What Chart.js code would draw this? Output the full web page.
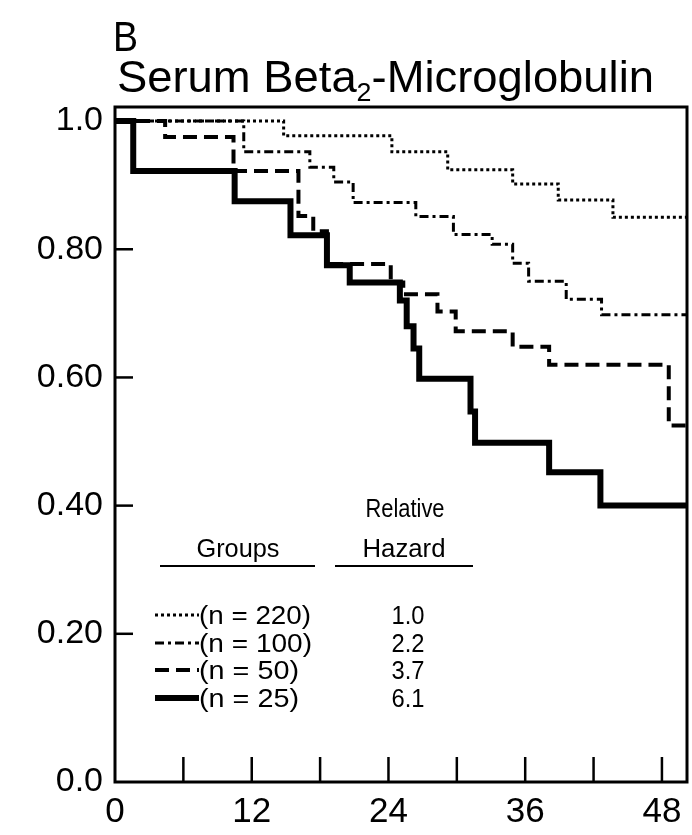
<!DOCTYPE html>
<html>
<head>
<meta charset="utf-8">
<title>Serum Beta2-Microglobulin</title>
<script src="https://cdn.jsdelivr.net/npm/chart.js@4/dist/chart.umd.min.js"></script>
<style>
    html, body { margin: 0; padding: 0; background: #fff; }
    #km { display: block; }
</style>
</head>
<body>
<canvas id="km" width="692" height="835"></canvas>
<script>
// Survival by serum beta2-microglobulin group (months, proportion surviving)
const months220 = [0, 14.8, 24.3, 29.2, 34.9, 38.9, 43.7, 50.2];
const surv220   = [1.0, 0.977, 0.952, 0.924, 0.902, 0.877, 0.850, 0.850];

const months100 = [0, 11.3, 17.1, 19.2, 20.9, 26.4, 29.7, 33.1, 34.9, 36.3, 39.6, 42.7, 50.2];
const surv100   = [1.0, 0.952, 0.928, 0.905, 0.873, 0.851, 0.823, 0.808, 0.778, 0.750, 0.722, 0.698, 0.698];

const months50 = [0, 4.4, 10.4, 16.1, 17.4, 18.6, 24.2, 25.3, 28.3, 29.9, 34.9, 38.1, 48.6, 50.2];
const surv50   = [1.0, 0.975, 0.922, 0.852, 0.828, 0.777, 0.748, 0.730, 0.703, 0.672, 0.648, 0.620, 0.525, 0.525];

const months25 = [0, 1.6, 10.5, 15.4, 18.6, 20.6, 25.0, 25.6, 26.2, 26.7, 31.2, 31.6, 38.1, 42.6, 50.2];
const surv25   = [1.0, 0.922, 0.875, 0.822, 0.775, 0.748, 0.720, 0.680, 0.645, 0.598, 0.547, 0.498, 0.452, 0.400, 0.400];

const groupLabels = ["(n = 220)", "(n = 100)", "(n = 50)", "(n = 25)"];
const relHazards  = ["1.0", "2.2", "3.7", "6.1"];

const xTickValues = [0, 6, 12, 18, 24, 30, 36, 42, 48];
const yTickValues = [0, 0.2, 0.4, 0.6, 0.8, 1.0];
const yTickLabels = ["0.0", "0.20", "0.40", "0.60", "0.80", "1.0"];

const FONT = '"Liberation Sans", Arial, sans-serif';

function toPoints(xs, ys) {
    return xs.map((x, i) => ({ x: x, y: ys[i] }));
}

function makeSet(label, xs, ys, width, dash) {
    return {
        label: label,
        data: toPoints(xs, ys),
        borderColor: "#000",
        borderWidth: width,
        borderDash: dash,
        stepped: "before",
        pointRadius: 0,
        fill: false
    };
}

// draws text squeezed (or stretched) to a given width, the original uses a narrow face
function fitText(ctx, text, x, y, width, align) {
    const w = ctx.measureText(text).width;
    let left = x;
    if (align === "center") left = x - width / 2;
    ctx.save();
    ctx.textAlign = "left";
    ctx.translate(left, y);
    ctx.scale(width / w, 1);
    ctx.fillText(text, 0, 0);
    ctx.restore();
}

// frame around the plot, inward tick marks, title block and the legend table
const decorPlugin = {
    id: "decor",
    afterDraw(chart) {
        const ctx = chart.ctx;
        const area = chart.chartArea;
        const xs = chart.scales.x;
        const ys = chart.scales.y;

        ctx.save();
        ctx.strokeStyle = "#000";
        ctx.fillStyle = "#000";

        // frame
        ctx.lineWidth = 3;
        ctx.strokeRect(area.left, area.top, area.right - area.left, area.bottom - area.top);

        // inward ticks
        ctx.lineWidth = 2.5;
        xTickValues.forEach(v => {
            if (v === 0) return;
            const px = xs.getPixelForValue(v);
            ctx.beginPath();
            ctx.moveTo(px, area.bottom);
            ctx.lineTo(px, area.bottom - 25);
            ctx.stroke();
        });
        yTickValues.forEach(v => {
            if (v === 0 || v === 1) return;
            const py = ys.getPixelForValue(v);
            ctx.beginPath();
            ctx.moveTo(area.left, py);
            ctx.lineTo(area.left + 18, py);
            ctx.stroke();
        });

        // title
        ctx.textBaseline = "alphabetic";
        ctx.font = "42px " + FONT;
        fitText(ctx, "B", 113, 51, 25, "left");

        const big = "44px " + FONT;
        const small = "26px " + FONT;
        const parts = [["Serum Beta", big, 0], ["2", small, 9], ["-Microglobulin", big, 0]];
        let total = 0;
        parts.forEach(p => { ctx.font = p[1]; total += ctx.measureText(p[0]).width; });
        const sx = 537 / total;
        ctx.save();
        ctx.translate(117, 92);
        ctx.scale(sx, 1);
        let cx = 0;
        parts.forEach(p => {
            ctx.font = p[1];
            ctx.fillText(p[0], cx, p[2]);
            cx += ctx.measureText(p[0]).width;
        });
        ctx.restore();

        // legend table
        ctx.font = "25px " + FONT;
        fitText(ctx, "Relative", 405, 517, 79, "center");
        fitText(ctx, "Hazard", 404, 557, 83, "center");
        fitText(ctx, "Groups", 238, 557, 83, "center");

        ctx.lineWidth = 2;
        ctx.beginPath();
        ctx.moveTo(160, 566); ctx.lineTo(315, 566);
        ctx.moveTo(335, 566); ctx.lineTo(473, 566);
        ctx.stroke();

        const rowY = [624, 652, 679, 707];
        const labelW = [112, 113, 100, 100];
        chart.data.datasets.forEach((ds, i) => {
            const y = rowY[i];
            fitText(ctx, groupLabels[i], 199, y, labelW[i], "left");
            fitText(ctx, relHazards[i], 408, y, 33, "center");

            ctx.save();
            ctx.lineWidth = ds.borderWidth;
            ctx.setLineDash(ds.borderDash);
            ctx.beginPath();
            ctx.moveTo(155, y - 9);
            ctx.lineTo(199, y - 9);
            ctx.stroke();
            ctx.restore();
        });

        ctx.restore();
    }
};

const kmChart = new Chart(document.getElementById("km").getContext("2d"), {
    type: "line",
    data: {
        datasets: [
            makeSet(groupLabels[0], months220, surv220, 3, [3, 3]),
            makeSet(groupLabels[1], months100, surv100, 3, [9, 4, 3, 4]),
            makeSet(groupLabels[2], months50, surv50, 4, [14, 7]),
            makeSet(groupLabels[3], months25, surv25, 6, [])
        ]
    },
    options: {
        responsive: false,
        animation: false,
        layout: { padding: { top: 107, right: 5, left: 0, bottom: 0 } },
        plugins: {
            legend: { display: false },
            tooltip: { enabled: false }
        },
        scales: {
            x: {
                type: "linear",
                min: 0,
                max: 50.2,
                afterBuildTicks: scale => { scale.ticks = xTickValues.map(v => ({ value: v })); },
                afterFit: scale => { scale.height = 53; },
                grid: { display: false, drawTicks: false },
                border: { display: false },
                ticks: {
                    autoSkip: false,
                    maxRotation: 0,
                    padding: 9,
                    color: "#000",
                    font: { family: FONT, size: 35 },
                    callback: v => (v % 12 === 0 ? String(v) : "")
                }
            },
            y: {
                type: "linear",
                min: -0.03125,
                max: 1.022,
                afterBuildTicks: scale => {
                    scale.ticks = yTickValues.map(v => ({ value: v === 0 ? scale.min : v }));
                },
                afterFit: scale => { scale.width = 115; },
                grid: { display: false, drawTicks: false },
                border: { display: false },
                ticks: {
                    padding: 12,
                    color: "#000",
                    font: { family: FONT, size: 34 },
                    callback: (v, i) => yTickLabels[i]
                }
            }
        }
    },
    plugins: [decorPlugin]
});
</script>
</body>
</html>
